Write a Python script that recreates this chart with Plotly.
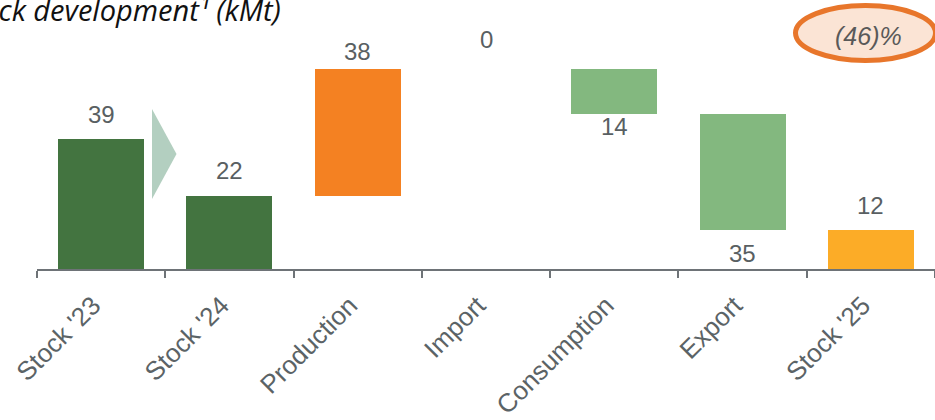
import plotly.graph_objects as go

# ---- data ----
categories = ["Stock '23", "Stock '24", "Production", "Import", "Consumption", "Export", "Stock '25"]
values = [39, 22, 38, 0, 13.6, 34.6, 11.8]
measures = ["absolute", "absolute", "relative", "relative", "relative", "relative", "absolute"]
signs = [1, 1, 1, 1, -1, -1, 1]
title_text = "Stock development¹ (kMt)"
badge_text = "(46)%"

# ---- styles ----
bar_colors = ["#437440", "#437440", "#F48122", "rgba(0,0,0,0)", "#83B87F", "#83B87F", "#FCAC27"]
label_shift = [25, 25, 18, 30, -12, -24, 24]
label_color = "#595f62"
axis_color = "#6e7377"

# compute waterfall bases and heights
bases, heights, tops, bottoms = [], [], [], []
running = 0.0
for v, m, s in zip(values, measures, signs):
    if m == "absolute":
        b, h = 0.0, v
        running = v
    else:
        if s > 0:
            b, h = running, v
            running += v
        else:
            running -= v
            b, h = running, v
    bases.append(b)
    heights.append(h)
    tops.append(b + h)
    bottoms.append(b)

fig = go.Figure()
fig.add_trace(go.Bar(
    x=categories, y=heights, base=bases, width=0.67,
    marker=dict(color=bar_colors, line=dict(width=0)),
    hoverinfo="skip", showlegend=False,
))

# data labels
for i, cat in enumerate(categories):
    yref_val = tops[i] if label_shift[i] > 0 else bottoms[i]
    fig.add_annotation(
        x=cat, y=yref_val, xref="x", yref="y",
        text=str(int(values[i] + 0.5)), showarrow=False,
        yanchor="middle", yshift=label_shift[i],
        font=dict(family="Liberation Sans, Arial", size=24, color=label_color),
    )

L, T, W, H = 37, 0, 898, 269
def px(x):
    return (x - L) / W
def py(y):
    return (H - y) / H

# chevron between Stock '23 and Stock '24
fig.add_shape(
    type="path", xref="paper", yref="paper",
    path=f"M {px(152)} {py(109)} L {px(176.5)} {py(154)} L {px(152)} {py(199)} Z",
    fillcolor="#b3cfc0", line=dict(width=0), layer="above",
)

# badge
fig.add_shape(
    type="circle", xref="paper", yref="paper",
    x0=px(795.5), x1=px(935.5), y0=py(60.5), y1=py(5.5),
    fillcolor="#fbe4d5", line=dict(color="#e8762b", width=5),
)
fig.add_annotation(
    x=px(868), y=py(36), xref="paper", yref="paper", text=f"<i>{badge_text}</i>",
    showarrow=False, xanchor="center", yanchor="middle",
    font=dict(family="Liberation Sans, Arial", size=25, color="#595959"),
)

# title (partially cut off at the left edge like the reference)
fig.add_annotation(
    x=px(-44), y=py(9), xref="paper", yref="paper", text=f"<i>{title_text}</i>",
    showarrow=False, xanchor="left", yanchor="middle",
    font=dict(family="Open Sans", size=29, color="#111111"),
)

fig.update_layout(
    width=935, height=420,
    margin=dict(l=L, r=0, t=0, b=420 - H),
    plot_bgcolor="white", paper_bgcolor="white",
    bargap=0,
    xaxis=dict(
        type="category", range=[-0.5, 6.5],
        showline=True, linecolor=axis_color, linewidth=2,
        ticks="outside", tickson="boundaries", ticklen=7, tickwidth=2, tickcolor=axis_color,
        tickangle=-45, showgrid=False, zeroline=False,
        ticklabelstandoff=9, ticklabelshift=-8,
        tickfont=dict(family="Liberation Sans, Arial", size=26, color="#5b6366"),
    ),
    yaxis=dict(range=[0, H / 3.333], visible=False, showgrid=False, zeroline=False),
)

fig.write_html("out.html")
